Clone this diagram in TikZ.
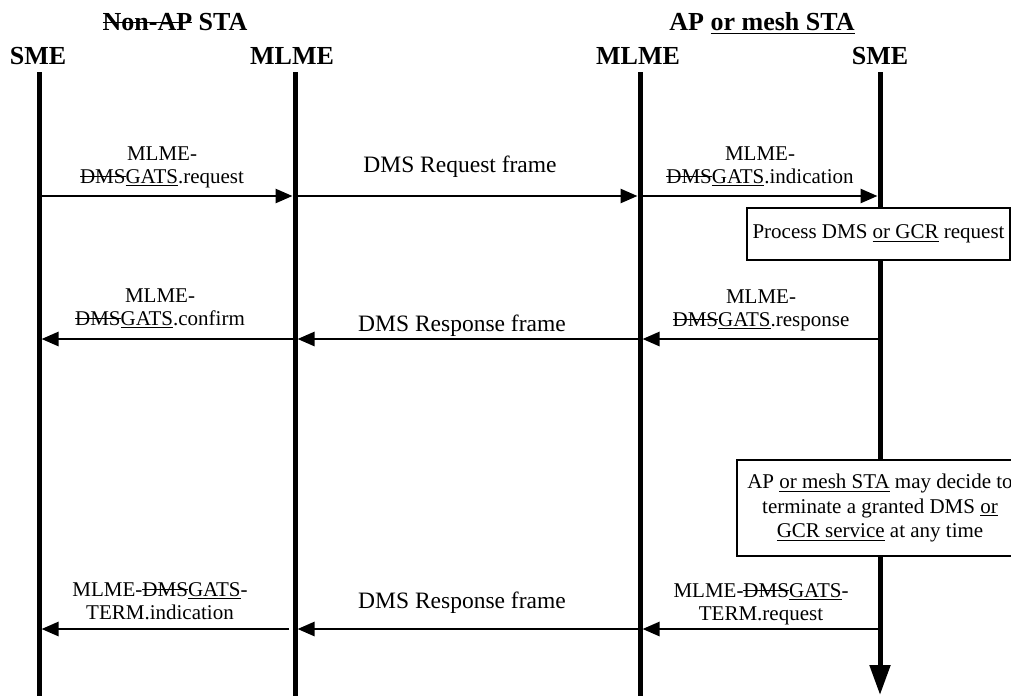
\documentclass[tikz,border=0pt]{standalone}
\usepackage{fontspec}
\setmainfont{Liberation Serif}
\usetikzlibrary{arrows.meta}
\newsavebox\mkbox
\newcommand{\mystrike}[1]{\sbox\mkbox{#1}\rlap{\raisebox{0.27em}{\rule{\wd\mkbox}{0.055em}}}\usebox\mkbox}
\newcommand{\myul}[1]{\sbox\mkbox{#1}\rlap{\raisebox{-0.16em}{\rule{\wd\mkbox}{0.045em}}}\usebox\mkbox}
\begin{document}
\begin{tikzpicture}[x=1pt,y=-1pt,
  life/.style={line width=5pt},
  msg/.style={line width=2.6pt,-{Triangle[length=17pt,width=14pt]}},
  lbl/.style={font=\fontsize{21}{23}\selectfont,align=center,inner sep=0pt,anchor=base},
  frm/.style={font=\fontsize{23.5}{26}\selectfont,inner sep=0pt,anchor=base},
  head/.style={font=\fontsize{26}{28}\selectfont\bfseries,inner sep=0pt,anchor=base},
  note/.style={draw,line width=1.2pt,fill=white,font=\fontsize{21}{24}\selectfont,align=center,inner sep=0pt}]
\useasboundingbox (0,0) rectangle (1011,696);
% headings
\node[head] (g1) at (175,30) {\mystrike{Non-AP} STA};
\node[head] (g2) at (762,30) {AP \myul{or mesh STA}};
\node[head] (h1) at (38,64) {SME};
\node[head] (h2) at (292,64) {MLME};
\node[head] (h3) at (638,64) {MLME};
\node[head] (h4) at (880,64) {SME};
% lifelines
\coordinate (t1) at (39,72);  \coordinate (b1) at (39,696);
\coordinate (t2) at (295,72); \coordinate (b2) at (295,696);
\coordinate (t3) at (640,72); \coordinate (b3) at (640,696);
\coordinate (t4) at (880,72); \coordinate (b4) at (880,695);
\draw[life] (t1) -- (b1);
\draw[life] (t2) -- (b2);
\draw[life] (t3) -- (b3);
\draw[life,-{Triangle[length=30pt,width=20pt]}] (t4) -- (b4);
% rows
\coordinate (r1) at (0,196);
\coordinate (r2) at (0,339);
\coordinate (r3) at (0,629);
\coordinate (g) at (289,629);
% notes
\node[note,minimum width=263pt,minimum height=52pt] (n1) at (878.5,234) {Process DMS \myul{or GCR} request};
\node[note,minimum width=286pt,minimum height=96pt,font=\fontsize{21}{24.5}\selectfont] (n2) at (880,508)
  {AP \myul{or mesh STA} may decide to\\terminate a granted DMS \myul{or}\\\myul{GCR service} at any time};
% messages row 1
\draw[msg,shorten >=2.5pt] (t1 |- r1) -- (t2 |- r1);
\draw[msg,shorten >=2.5pt] (t2 |- r1) -- (t3 |- r1);
\draw[msg,shorten >=2.5pt] (t3 |- r1) -- (t4 |- r1);
\node[lbl] (m1) at (162,183) {MLME-\\\mystrike{DMS}\myul{GATS}.request};
\node[frm] (f1) at (460,172) {DMS Request frame};
\node[lbl] (m2) at (760,183) {MLME-\\\mystrike{DMS}\myul{GATS}.indication};
% messages row 2
\draw[msg,shorten >=2.5pt] (t4 |- r2) -- (t3 |- r2);
\draw[msg,shorten >=2.5pt] (t3 |- r2) -- (t2 |- r2);
\draw[msg,shorten >=2.5pt] (t2 |- r2) -- (t1 |- r2);
\node[lbl] (m3) at (160,325) {MLME-\\\mystrike{DMS}\myul{GATS}.confirm};
\node[frm] (f2) at (462,331) {DMS Response frame};
\node[lbl] (m4) at (761,326) {MLME-\\\mystrike{DMS}\myul{GATS}.response};
% messages row 3
\draw[msg,shorten >=2.5pt] (t4 |- r3) -- (t3 |- r3);
\draw[msg,shorten >=2.5pt] (t3 |- r3) -- (t2 |- r3);
\draw[msg,shorten >=2.5pt] (g) -- (t1 |- r3);
\node[lbl] (m5) at (160,619) {MLME-\mystrike{DMS}\myul{GATS}-\\TERM.indication};
\node[frm] (f3) at (462,608) {DMS Response frame};
\node[lbl] (m6) at (761,620) {MLME-\mystrike{DMS}\myul{GATS}-\\TERM.request};
\end{tikzpicture}
\end{document}
